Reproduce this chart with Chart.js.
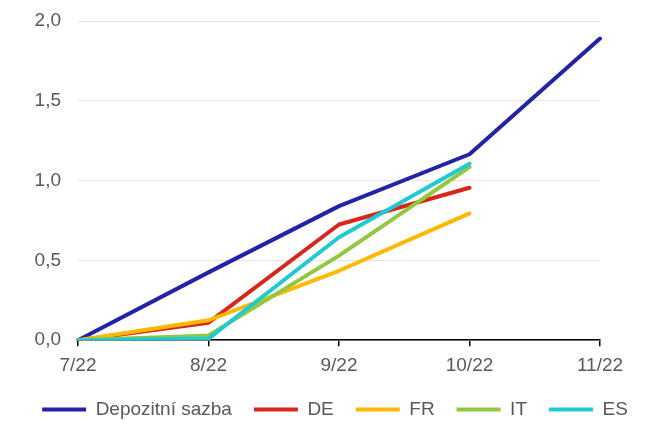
<!DOCTYPE html>
<html><head><meta charset="utf-8">
<script src="https://cdn.jsdelivr.net/npm/chart.js@4.4.0/dist/chart.umd.min.js"></script>
<style>html,body{margin:0;padding:0;background:#fff}#w{width:670px;height:441px}</style>
</head><body><div id="w"><canvas id="c"></canvas></div>
<script>
const categories = ['7/22','8/22','9/22','10/22','11/22'];
const depo = [0, 0.425, 0.84, 1.165, 1.89];
const de = [0, 0.11, 0.725, 0.955];
const fr = [0, 0.125, 0.435, 0.795];
const it = [0, 0.03, 0.53, 1.085];
const es = [0, 0.01, 0.645, 1.105];
const yTickLabels = ['0,0','0,5','1,0','1,5','2,0'];

const names = ['Depozitní sazba','DE','FR','IT','ES'];
const colors = ['#2323a6','#d9261c','#ffb800','#92c83e','#1fcad3'];
const series = [depo, de, fr, it, es];

Chart.defaults.font.family = '"Liberation Sans", Arial, sans-serif';
Chart.defaults.font.size = 19;
Chart.defaults.color = '#595959';

new Chart(document.getElementById('c'), {
  type: 'line',
  data: {
    labels: categories,
    datasets: series.map((d, i) => ({
      label: names[i], data: d, borderColor: colors[i], backgroundColor: colors[i],
      borderWidth: 4, pointRadius: 0, tension: 0, borderCapStyle: 'round', borderJoinStyle: 'round',
      order: 4 - i
    }))
  },
  options: {
    responsive: true, maintainAspectRatio: false, animation: false,
    layout: { padding: { left: 0, right: 0, top: 21, bottom: 12 } },
    plugins: {
      tooltip: { enabled: false },
      legend: {
        position: 'bottom',
        labels: {
          usePointStyle: true, pointStyle: 'line', pointStyleWidth: 44, boxHeight: 19,
          padding: 22, color: '#595959', font: { size: 19 },
          sort: (a, b) => a.datasetIndex - b.datasetIndex
        }
      }
    },
    scales: {
      x: {
        offset: false,
        afterFit: s => { s.height = s.height - 7; },
        grid: { display: true, drawOnChartArea: false, drawTicks: true, tickLength: 6, color: '#000', lineWidth: 1.5 },
        border: { display: true, color: '#000', width: 1.5 },
        ticks: { padding: 8, maxRotation: 0, color: '#595959' }
      },
      y: {
        min: 0, max: 2,
        afterFit: s => { s.width = 78; s.paddingTop = 0; s.paddingBottom = 0; },
        grid: { color: '#e3e3e3', lineWidth: 1, drawTicks: false },
        border: { display: false },
        ticks: { stepSize: 0.5, padding: 17, color: '#595959',
          callback: (v) => yTickLabels[Math.round(v / 0.5)] }
      },
      yr: {
        position: 'right', min: 0, max: 2,
        afterFit: s => { s.width = 70; s.paddingTop = 0; s.paddingBottom = 0; },
        grid: { display: false }, border: { display: false },
        ticks: { display: false }
      }
    }
  }
});
</script>
</body></html>
